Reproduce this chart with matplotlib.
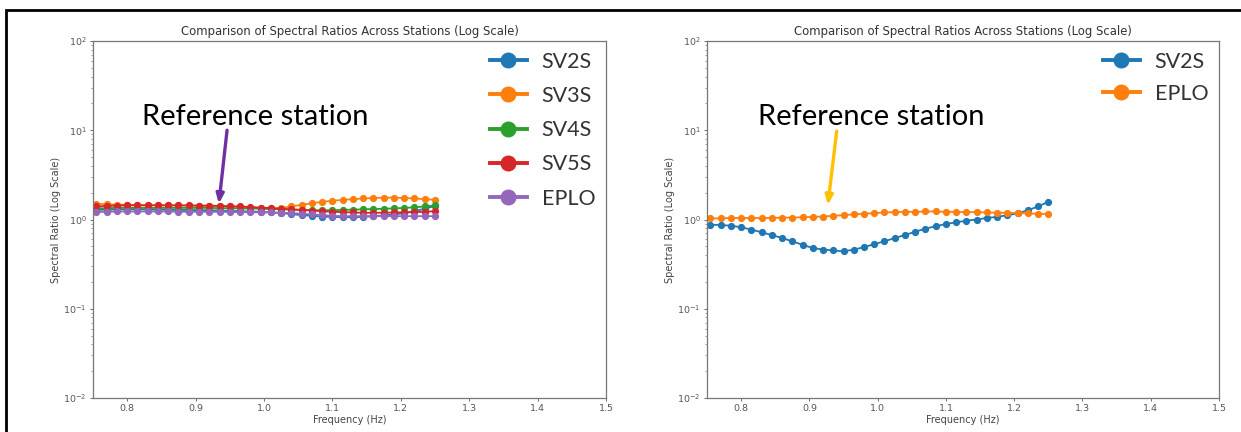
import matplotlib
matplotlib.use("Agg")
import matplotlib.pyplot as plt
from matplotlib.patches import Rectangle

# ---- frequency axis (Hz), shared by both panels
freq = [0.755, 0.770, 0.785, 0.800, 0.815, 0.830, 0.845, 0.860, 0.875, 0.890,
        0.905, 0.920, 0.935, 0.950, 0.965, 0.980, 0.995, 1.010, 1.025, 1.040,
        1.055, 1.070, 1.085, 1.100, 1.115, 1.130, 1.145, 1.160, 1.175, 1.190,
        1.205, 1.220, 1.235, 1.250]

# ---- left panel: all stations
sv2s_a = [1.28, 1.29, 1.30, 1.30, 1.30, 1.30, 1.29, 1.29, 1.28, 1.28,
          1.27, 1.27, 1.26, 1.25, 1.24, 1.23, 1.22, 1.20, 1.18, 1.15,
          1.12, 1.10, 1.08, 1.07, 1.06, 1.06, 1.07, 1.09, 1.11, 1.14,
          1.18, 1.24, 1.32, 1.42]
sv3s_a = [1.50, 1.48, 1.47, 1.46, 1.46, 1.45, 1.45, 1.44, 1.44, 1.43,
          1.43, 1.42, 1.41, 1.40, 1.38, 1.36, 1.34, 1.33, 1.35, 1.40,
          1.46, 1.52, 1.58, 1.62, 1.66, 1.69, 1.72, 1.74, 1.76, 1.76,
          1.74, 1.72, 1.69, 1.66]
sv4s_a = [1.33, 1.34, 1.35, 1.35, 1.35, 1.35, 1.35, 1.35, 1.35, 1.35,
          1.35, 1.35, 1.34, 1.34, 1.33, 1.33, 1.32, 1.31, 1.30, 1.29,
          1.28, 1.27, 1.27, 1.27, 1.28, 1.29, 1.30, 1.31, 1.32, 1.33,
          1.35, 1.37, 1.40, 1.44]
sv5s_a = [1.40, 1.42, 1.43, 1.44, 1.44, 1.44, 1.44, 1.44, 1.44, 1.44,
          1.43, 1.43, 1.42, 1.41, 1.40, 1.38, 1.36, 1.34, 1.32, 1.30,
          1.28, 1.26, 1.24, 1.22, 1.21, 1.20, 1.19, 1.19, 1.19, 1.20,
          1.20, 1.21, 1.22, 1.24]
eplo_a = [1.21, 1.22, 1.23, 1.23, 1.23, 1.23, 1.23, 1.23, 1.22, 1.22,
          1.22, 1.22, 1.22, 1.21, 1.21, 1.21, 1.20, 1.20, 1.19, 1.18,
          1.16, 1.14, 1.12, 1.10, 1.09, 1.09, 1.09, 1.09, 1.09, 1.09,
          1.09, 1.09, 1.09, 1.09]

# ---- right panel: SV2S vs EPLO reference
sv2s_b = [0.87, 0.87, 0.85, 0.82, 0.77, 0.72, 0.67, 0.62, 0.57, 0.52,
          0.48, 0.46, 0.45, 0.44, 0.46, 0.49, 0.53, 0.57, 0.62, 0.67,
          0.73, 0.79, 0.84, 0.89, 0.93, 0.97, 1.00, 1.04, 1.07, 1.12,
          1.17, 1.27, 1.40, 1.58]
eplo_b = [1.03, 1.03, 1.04, 1.04, 1.04, 1.04, 1.04, 1.05, 1.05, 1.06,
          1.07, 1.08, 1.10, 1.12, 1.14, 1.16, 1.18, 1.20, 1.21, 1.22,
          1.22, 1.23, 1.23, 1.22, 1.22, 1.21, 1.21, 1.20, 1.19, 1.19,
          1.18, 1.17, 1.16, 1.15]

left_series = [("SV2S", sv2s_a), ("SV3S", sv3s_a), ("SV4S", sv4s_a),
               ("SV5S", sv5s_a), ("EPLO", eplo_a)]
right_series = [("SV2S", sv2s_b), ("EPLO", eplo_b)]

TITLE = "Comparison of Spectral Ratios Across Stations (Log Scale)"
NOTE_FONT = ["Lato", "DejaVu Sans"]


def setup_axes(ax):
    ax.set_yscale("log")
    ax.set_xlim(0.75, 1.5)
    ax.set_ylim(1e-2, 1e2)
    ax.set_title(TITLE, fontsize=8.4, color="#333333", pad=4)
    ax.set_xlabel("Frequency (Hz)", fontsize=7, color="#444444", labelpad=1.5)
    ax.set_ylabel("Spectral Ratio (Log Scale)", fontsize=7, color="#444444",
                  labelpad=2)
    ax.tick_params(labelsize=6.8, colors="#555555", length=2.5, width=0.6,
                   pad=2)
    ax.tick_params(which="minor", length=1.5, width=0.5, colors="#777777")
    for sp in ax.spines.values():
        sp.set_color("#777777")
        sp.set_linewidth(0.9)


def draw_panel(ax, series, arrow_color, arrow_xy, text_x, lspace):
    for name, vals in series:
        ax.plot(freq, vals, marker="o", markersize=4.2, linewidth=1.3,
                label=name)
    setup_axes(ax)
    leg = ax.legend(loc="upper right", frameon=False,
                    prop={"family": NOTE_FONT, "size": 15.5},
                    markerscale=2.5, handlelength=1.7, handletextpad=0.7,
                    labelspacing=lspace, borderaxespad=0.25,
                    borderpad=0.25)
    for h in leg.legend_handles:
        h.set_linewidth(2.8)
    for t in leg.get_texts():
        t.set_color("#333333")
    # ---- anotación "Reference station"
    ax.text(text_x, 10 ** 1.15, "Reference station", fontsize=21,
            family=NOTE_FONT, color="black", ha="left", va="center")
    (x0, y0), (x1, y1) = arrow_xy
    ax.annotate("", xy=(x1, y1), xytext=(x0, y0),
                arrowprops=dict(arrowstyle="-|>,head_length=0.55,head_width=0.22",
                                color=arrow_color, linewidth=2.4,
                                shrinkA=0, shrinkB=0))


fig = plt.figure(figsize=(12.41, 4.32), dpi=100)
W, H = 1241.0, 432.0

ax1 = fig.add_axes([93 / W, 34 / H, (606 - 93) / W, (391 - 34) / H])
ax2 = fig.add_axes([707 / W, 34 / H, (1219 - 707) / W, (391 - 34) / H])

draw_panel(ax1, left_series, "#7030A0",
           ((0.946, 10 ** 1.0), (0.934, 1.5)), 0.822, 0.66)
draw_panel(ax2, right_series, "#FFC000",
           ((0.940, 10 ** 0.99), (0.927, 1.45)), 0.825, 0.55)

# ---- marco negro de la captura
fig.add_artist(Rectangle((6 / W, -0.05), 1.0, (432 - 10) / H + 0.05,
                         transform=fig.transFigure, fill=False,
                         edgecolor="black", linewidth=2.0))

fig.savefig("out.png", dpi=100)
